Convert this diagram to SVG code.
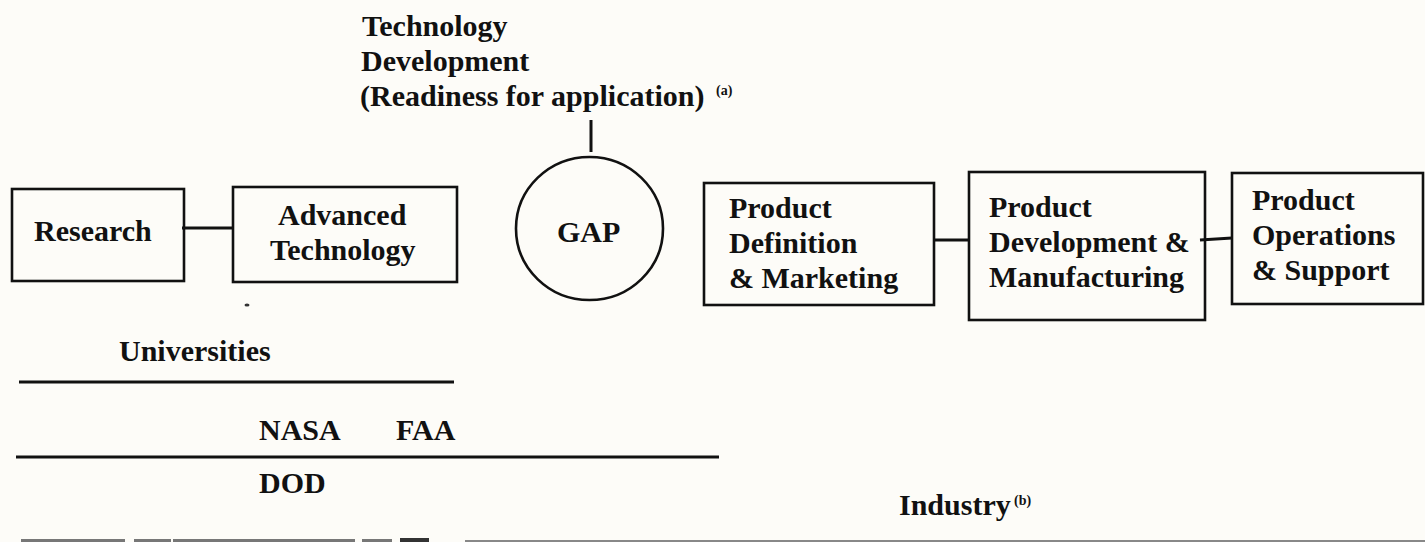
<svg xmlns="http://www.w3.org/2000/svg" width="1425" height="542" viewBox="0 0 1425 542">
<style>
.t{font-family:"Liberation Serif","Times New Roman",serif;font-weight:bold;font-size:30px;fill:#111}
.sup{font-family:"Liberation Serif","Times New Roman",serif;font-weight:bold;font-size:14px;fill:#111}
.box{fill:none;stroke:#111;stroke-width:2.6}
.ln{fill:none;stroke:#111;stroke-width:3}
</style>
<rect x="0" y="0" width="1425" height="542" fill="#fdfcf8"/>
<g id="title">
<text class="t" x="362" y="36">Technology</text>
<text class="t" x="361" y="71">Development</text>
<text class="t" x="360" y="106">(Readiness for application)</text>
<text class="sup" x="716" y="95">(a)</text>
</g>
<g id="research">
<rect class="box" x="12" y="189" width="172" height="92"/>
<text class="t" x="34" y="241">Research</text>
</g>
<g id="advanced">
<rect class="box" x="233" y="187" width="224" height="95"/>
<text class="t" x="278" y="225">Advanced</text>
<text class="t" x="270" y="260">Technology</text>
</g>
<g id="gap">
<ellipse class="box" cx="589.5" cy="228.5" rx="73.5" ry="71.5"/>
<text class="t" x="557" y="242">GAP</text>
</g>
<g id="productDefinition">
<rect class="box" x="704" y="183" width="230" height="122"/>
<text class="t" x="729" y="218">Product</text>
<text class="t" x="729" y="253">Definition</text>
<text class="t" x="729" y="288">&amp; Marketing</text>
</g>
<g id="productDevelopment">
<rect class="box" x="969" y="172" width="236" height="148"/>
<text class="t" x="989" y="217">Product</text>
<text class="t" x="989" y="252">Development &amp;</text>
<text class="t" x="989" y="287">Manufacturing</text>
</g>
<g id="productOperations">
<rect class="box" x="1232" y="173" width="191" height="131"/>
<text class="t" x="1252" y="210">Product</text>
<text class="t" x="1252" y="245">Operations</text>
<text class="t" x="1252" y="280">&amp; Support</text>
</g>
<g id="connectors">
<line class="ln" x1="182" y1="228" x2="233" y2="228"/>
<line class="ln" x1="591" y1="120" x2="591" y2="152"/>
<line class="ln" x1="934" y1="240" x2="969" y2="240"/>
<line class="ln" x1="1200" y1="240" x2="1232" y2="238"/>
</g>
<g id="sponsors">
<text class="t" x="119" y="361">Universities</text>
<line class="ln" x1="19" y1="382" x2="454" y2="382"/>
<text class="t" x="259" y="440">NASA</text>
<text class="t" x="396" y="440">FAA</text>
<line class="ln" x1="16" y1="457" x2="719" y2="457"/>
<text class="t" x="259" y="493">DOD</text>
<text class="t" x="899" y="515">Industry</text>
<text class="sup" x="1014" y="505">(b)</text>
</g>
<g id="scan" fill="#777">
<ellipse cx="247" cy="305" rx="2.5" ry="1.5" fill="#333"/>
<rect x="21" y="539" width="104" height="3"/>
<rect x="134" y="539" width="37" height="3"/>
<rect x="173" y="539" width="182" height="3"/>
<rect x="362" y="539" width="30" height="3"/>
<rect x="400" y="538" width="29" height="4" fill="#333"/>
<rect x="465" y="540" width="960" height="2" fill="#888"/>
</g>
</svg>
